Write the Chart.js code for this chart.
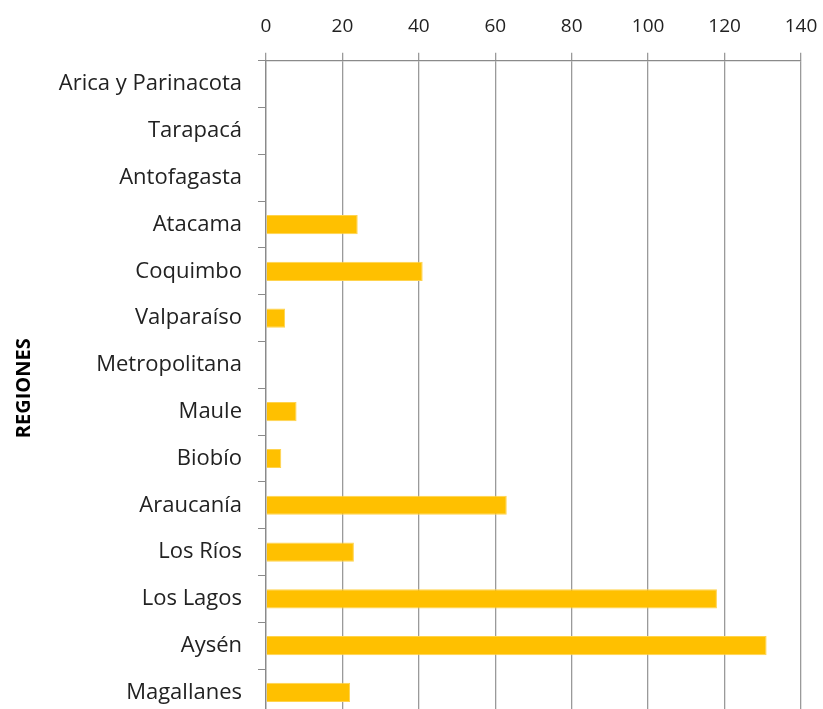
<!DOCTYPE html>
<html>
<head>
<meta charset="utf-8">
<script src="https://cdn.jsdelivr.net/npm/chart.js@4.4.0/dist/chart.umd.min.js"></script>
<style>
  body { margin: 0; background: #fff; overflow: hidden; }
  #wrap { width: 823px; height: 745px; position: relative; }
</style>
</head>
<body>
<div id="wrap"><canvas id="regiones"></canvas></div>
<script>
// regiones y valores
const regiones = ['Arica y Parinacota', 'Tarapacá', 'Antofagasta', 'Atacama', 'Coquimbo', 'Valparaíso',
    'Metropolitana', 'Maule', 'Biobío', 'Araucanía', 'Los Ríos', 'Los Lagos', 'Aysén', 'Magallanes'];
const valores = [0, 0, 0, 24, 41, 5, 0, 8, 4, 63, 23, 118, 131, 22];
const ejeMin = 0;
const ejeMax = 140;
const ejePaso = 20;

const ctx = document.getElementById('regiones');

new Chart(ctx, {
    type: 'bar',
    data: {
        labels: regiones,
        datasets: [
            {
                data: valores,
                backgroundColor: '#FFC000',
                borderColor: '#FFD34D',
                borderWidth: 1,
                barPercentage: 0.41,
                categoryPercentage: 1.0
            }
        ]
    },
    options: {
        indexAxis: 'y',
        responsive: true,
        maintainAspectRatio: false,
        animation: false,
        layout: {
            padding: { left: 12, right: 22, top: 0, bottom: 0 }
        },
        plugins: {
            legend: { display: false },
            tooltip: { enabled: false }
        },
        scales: {
            x: {
                position: 'top',
                min: ejeMin,
                max: ejeMax,
                afterFit: (scale) => { scale.paddingRight = 0; },
                ticks: {
                    stepSize: ejePaso,
                    color: '#222',
                    padding: 15,
                    font: { family: 'Open Sans', size: 19 }
                },
                grid: {
                    color: '#9a9a9a',
                    lineWidth: 1.3,
                    tickLength: 8
                },
                border: { color: '#8a8a8a', width: 1.3 }
            },
            y: {
                afterFit: (scale) => { scale.width = 254; },
                title: {
                    display: true,
                    text: 'REGIONES',
                    color: '#000',
                    padding: { top: 0, bottom: 10 },
                    font: { family: 'Open Sans', size: 20, weight: 'bold' }
                },
                ticks: {
                    color: '#222',
                    padding: 16,
                    font: { family: 'Open Sans', size: 22 }
                },
                grid: {
                    drawOnChartArea: false,
                    color: '#8a8a8a',
                    tickLength: 8,
                    offset: true
                },
                border: { color: '#8a8a8a', width: 1.3 }
            }
        }
    }
});
</script>
</body>
</html>
